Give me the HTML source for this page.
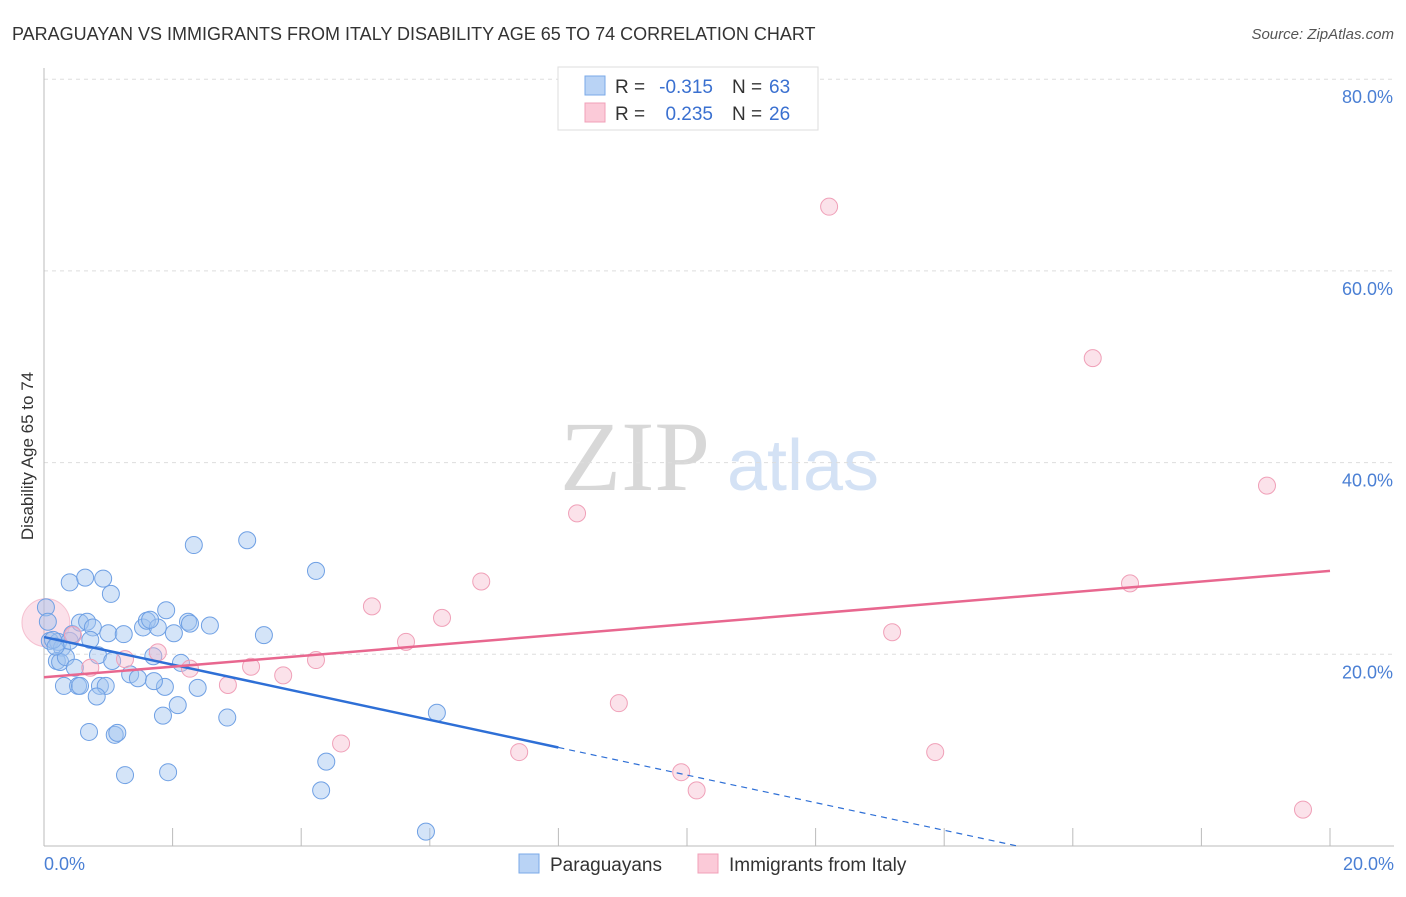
<!DOCTYPE html>
<html><head><meta charset="utf-8"><style>
body{margin:0;background:#fff;font-family:"Liberation Sans",sans-serif;}
svg text{font-family:"Liberation Sans",sans-serif;}
svg text.serif{font-family:"Liberation Serif",serif;}
</style></head><body>
<svg id="chart" width="1406" height="892" xmlns="http://www.w3.org/2000/svg">
<text x="12" y="40" font-size="18" fill="#333">PARAGUAYAN VS IMMIGRANTS FROM ITALY DISABILITY AGE 65 TO 74 CORRELATION CHART</text>
<text x="1394" y="39" font-size="15" fill="#555" font-style="italic" text-anchor="end">Source: ZipAtlas.com</text>
<text transform="translate(33,456) rotate(-90)" font-size="17" fill="#333" text-anchor="middle">Disability Age 65 to 74</text>
<g>
<text class="serif" x="635" y="490" font-size="100" fill="#d8d8d8" text-anchor="middle">ZIP</text>
<text x="803" y="490" font-size="72" fill="#d4e2f5" text-anchor="middle">atlas</text>
</g>
<g id="grid"></g><g id="axes"></g><g id="marks"></g>
<g>
<rect x="558" y="67" width="260" height="63" fill="#fff" stroke="#ddd"/>
<rect x="585" y="76" width="20" height="19" fill="#b9d3f5" stroke="#7aaae8"/>
<rect x="585" y="103" width="20" height="19" fill="#fbcad8" stroke="#f0a0b8"/>
<text x="615" y="93" font-size="19" fill="#333">R =</text>
<text x="713" y="93" font-size="19" fill="#3a70d0" text-anchor="end">-0.315</text>
<text x="732" y="93" font-size="19" fill="#333">N =</text>
<text x="769" y="93" font-size="19" fill="#3a70d0">63</text>
<text x="615" y="120" font-size="19" fill="#333">R =</text>
<text x="713" y="120" font-size="19" fill="#3a70d0" text-anchor="end">0.235</text>
<text x="732" y="120" font-size="19" fill="#333">N =</text>
<text x="769" y="120" font-size="19" fill="#3a70d0">26</text>
</g>
<g>
<rect x="519" y="854" width="20" height="19" fill="#b9d3f5" stroke="#7aaae8"/>
<text x="550" y="871" font-size="19" fill="#333">Paraguayans</text>
<rect x="698" y="854" width="20" height="19" fill="#fbcad8" stroke="#f0a0b8"/>
<text x="729" y="871" font-size="19" fill="#333">Immigrants from Italy</text>
</g>
</svg>
<script>
const yTicks=[20,40,60,80];
const yTickLabels=["20.0%","40.0%","60.0%","80.0%"];
const xTickLabels=["0.0%","20.0%"];
const blueX=[0.03,0.06,0.09,0.22,0.28,0.20,0.25,0.34,0.40,0.44,0.48,0.31,0.53,0.56,0.40,0.64,0.92,1.04,0.56,0.67,0.76,0.72,1.00,1.24,0.84,1.06,0.87,0.96,0.82,0.70,1.10,1.14,1.26,1.34,1.46,1.54,1.60,1.70,1.77,1.90,1.65,2.02,1.88,1.71,1.85,2.08,2.13,2.24,2.27,2.39,2.58,2.33,3.16,2.85,3.42,4.23,4.39,4.31,6.11,5.94,1.93,0.14,0.18];
const blueY=[24.9,23.4,21.4,21.3,20.7,19.3,19.2,19.7,21.4,22.1,18.6,16.7,16.7,16.7,27.5,28.0,27.9,26.3,23.3,23.4,22.8,21.5,22.2,22.1,19.9,19.3,16.7,16.7,15.6,11.9,11.6,11.8,7.4,17.9,17.5,22.8,23.5,19.8,22.8,24.6,23.6,22.2,16.6,17.2,13.6,14.7,19.1,23.4,23.2,16.5,23.0,31.4,31.9,13.4,22.0,28.7,8.8,5.8,13.9,1.5,7.7,21.5,20.8];
const pinkX=[0.72,0.45,1.26,1.77,2.27,2.86,3.22,3.72,4.23,4.62,5.10,5.63,6.19,6.80,7.39,8.29,8.94,9.91,10.15,12.21,13.19,13.86,16.31,16.89,19.02,19.58];
const pinkY=[18.6,22.0,19.5,20.2,18.5,16.8,18.7,17.8,19.4,10.7,25.0,21.3,23.8,27.6,9.8,34.7,14.9,7.7,5.8,66.7,22.3,9.8,50.9,27.4,37.6,3.8];
const blueTrend=[21.8,-1.44];
const pinkTrend=[17.6,0.555];
const NS="http://www.w3.org/2000/svg";
const X=v=>44+v*(1286/20), Y=v=>846-v*9.585;
function mk(p,t,a){const e=document.createElementNS(NS,t);for(const k in a)e.setAttribute(k,a[k]);document.getElementById(p).appendChild(e);return e;}
yTicks.forEach((t,i)=>{
 const g=mk('grid','line',{x1:44,x2:1394,y1:Y(t),y2:Y(t),stroke:'#ddd','stroke-dasharray':'4,4'});
 
 
 const l=mk('axes','text',{x:1393,y:Y(t)+24,'font-size':18,fill:'#4a7fd4','text-anchor':'end'});l.textContent=yTickLabels[i];
 
 
});
const ax=mk('axes','line',{x1:44,x2:44,y1:68,y2:846,stroke:'#bbb'});


const bx=mk('axes','line',{x1:44,x2:1394,y1:846,y2:846,stroke:'#bbb'});


for(let i=1;i<=10;i++){const t=mk('axes','line',{x1:X(i*2),x2:X(i*2),y1:828,y2:846,stroke:'#bbb'});
 
 }
[[0,'start',44],[20,'end',1394]].forEach((d,i)=>{const l=mk('axes','text',{x:d[2],y:870,'font-size':18,fill:'#4a7fd4','text-anchor':d[1]});l.textContent=xTickLabels[i];
 
 });
const big=mk('marks','circle',{cx:X(0.03),cy:Y(23.3),r:24,fill:'rgba(244,170,195,0.35)',stroke:'rgba(240,160,184,0.6)'});


blueX.forEach((x,i)=>{const c=mk('marks','circle',{cx:X(x),cy:Y(blueY[i]),r:8.5,fill:'rgba(160,196,240,0.45)',stroke:'#6fa0e4','stroke-width':1});
 
 });
pinkX.forEach((x,i)=>{const c=mk('marks','circle',{cx:X(x),cy:Y(pinkY[i]),r:8.5,fill:'rgba(246,182,202,0.4)',stroke:'#f0a0b8','stroke-width':1});
 
 });
const bz=-blueTrend[0]/blueTrend[1];
const b1=mk('marks','line',{x1:X(0),y1:Y(blueTrend[0]),x2:X(8),y2:Y(blueTrend[0]+8*blueTrend[1]),stroke:'#2e6fd6','stroke-width':2.5});


const b2=mk('marks','line',{x1:X(8),y1:Y(blueTrend[0]+8*blueTrend[1]),x2:X(bz),y2:Y(0),stroke:'#2e6fd6','stroke-width':1.2,'stroke-dasharray':'6,5'});


const p1=mk('marks','line',{x1:X(0),y1:Y(pinkTrend[0]),x2:X(20),y2:Y(pinkTrend[0]+20*pinkTrend[1]),stroke:'#e8678f','stroke-width':2.5});


</script>
</body></html>
